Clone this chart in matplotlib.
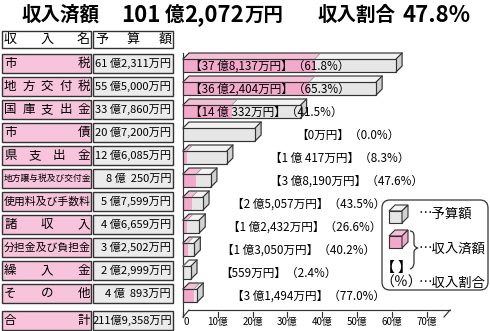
import matplotlib
matplotlib.use('Agg')
import matplotlib.pyplot as plt
from matplotlib.patches import Polygon, Rectangle, FancyBboxPatch, PathPatch
from matplotlib.path import Path

plt.rcParams['font.family'] = ['Noto Sans CJK JP', 'DejaVu Sans']

# ---------------- data ----------------
categories = ['市税', '地方交付税', '国庫支出金', '市債', '県支出金',
              '地方譲与税及び交付金', '使用料及び手数料', '諸収入',
              '分担金及び負担金', '繰入金', 'その他']
budget_man = [612311, 555000, 337860, 207200, 126085, 80250,
              57599, 46659, 32502, 22999, 40893]          # 予算額 (万円)
received_man = [378137, 362404, 140332, 0, 10417, 38190,
                25057, 12432, 13050, 559, 31494]         # 収入済額 (万円)
ratio_pct = [61.8, 65.3, 41.5, 0.0, 8.3, 47.6, 43.5, 26.6, 40.2, 2.4, 77.0]
total_budget_man = 2119358
total_received_man = 1012072
total_ratio_pct = 47.8
xticks = [0, 10, 20, 30, 40, 50, 60, 70]
xtick_labels = ['0', '10億', '20億', '30億', '40億', '50億', '60億', '70億']

# ---------------- layout / style ----------------
label_x = [2.0, 2.0, 2.0, 32.5, 25.0, 25.0, 14.0, 13.0, 11.2, 10.6, 14.0]
PINK = '#F3A9CA'
PINK_TOP = '#F6BFD8'
CELL_PINK = '#F7C4DB'
CELL_GREY = '#EBEBEB'
GREY = '#E6E6E6'
GREY_TOP = '#F3F3F3'
GREY_SIDE = '#D2D2D2'
EDGE = '#333333'

W, H = 490, 331
fig = plt.figure(figsize=(W / 100, H / 100), dpi=100)
fig.patch.set_facecolor('white')

# pixel-coordinate overlay for table, title and legend
axp = fig.add_axes([0, 0, 1, 1])
axp.set_xlim(0, W)
axp.set_ylim(H, 0)
axp.axis('off')

# bar axes
ROW0, ROWSTEP = 54.0, 23.0
px_x0, px_x1 = 183.0, 444.0
xmax = 75.0
front_c0 = ROW0 + 11.5
floor_px, top_px = 317.0, 47.0
ylo = (floor_px - front_c0) / ROWSTEP
yhi = (top_px - front_c0) / ROWSTEP
axb = fig.add_axes([px_x0 / W, (H - floor_px) / H, (px_x1 - px_x0) / W, (floor_px - top_px) / H])
axb.set_xlim(0, xmax)
axb.set_ylim(ylo, yhi)
axb.axis('off')
axb.patch.set_alpha(0)

ppx = (px_x1 - px_x0) / xmax  # pixels per 億
dx = 6.0 / ppx
dy = 6.0 / ROWSTEP
hh = 6.5 / ROWSTEP


def oku(v):
    return v / 10000.0


def fmt_man(v, space=True):
    o, m = divmod(v, 10000)
    if o == 0:
        return f'{m}万円'
    sep = ' ' if space else ''
    if m >= 1000:
        return f'{o}{sep}億{m:,}万円'
    return f'{o}{sep}億 {m}万円'


def poly(ax, pts, fc, z=3):
    ax.add_patch(Polygon(pts, closed=True, fc=fc, ec='none', zorder=z, clip_on=False))


def line(ax, xs, ys, lw=0.85, z=4, c=EDGE):
    ax.plot(xs, ys, color=c, lw=lw, zorder=z, clip_on=False, solid_joinstyle='miter')


def bar3d(ax, y, rec, bud, z=3):
    yt, yb = y - hh, y + hh
    yk = yt - dy
    if rec > 0:
        poly(ax, [(0, yt), (rec, yt), (rec, yb), (0, yb)], PINK, z)
        poly(ax, [(0, yt), (rec, yt), (rec + dx, yk), (dx, yk)], PINK_TOP, z)
    poly(ax, [(rec, yt), (bud, yt), (bud, yb), (rec, yb)], GREY, z)
    poly(ax, [(rec, yt), (bud, yt), (bud + dx, yk), (rec + dx, yk)], GREY_TOP, z)
    poly(ax, [(bud, yt), (bud + dx, yk), (bud + dx, yb - dy), (bud, yb)], GREY_SIDE, z)
    line(ax, [0, bud, bud, 0, 0], [yt, yt, yb, yb, yt], z=z + 0.5)
    line(ax, [0, dx, bud + dx, bud + dx, bud], [yt, yk, yk, yb - dy, yb], z=z + 0.5)
    line(ax, [bud, bud + dx], [yt, yk], z=z + 0.5)
    if rec > 0:
        line(ax, [rec, rec + dx], [yt, yk], lw=0.5, z=z + 0.5, c='#888888')


# wall and floor
yfront, yback = ylo, ylo - dy * 7 / 6
line(axb, [0, 0], [yhi + 0.25, ylo], z=2)
line(axb, [0, dx], [yfront, yback], z=2)
line(axb, [dx, xmax + dx], [yback, yback], z=2)
line(axb, [xmax, xmax + dx], [yfront, yback], z=2)
for t, lab in zip(xticks, xtick_labels):
    line(axb, [t, t], [yfront, yfront - 0.22], z=2)
    axb.text(t + (0.8 if t == 0 else 0), yfront + 0.22, lab, ha='center', va='center',
             fontsize=7.0, clip_on=False)

# bars and labels
for i in range(len(categories)):
    bar3d(axb, i, oku(received_man[i]), oku(budget_man[i]))
    txt = f'【{fmt_man(received_man[i])}】（{ratio_pct[i]:.1f}%）'
    axb.text(label_x[i], i + 0.02, txt, ha='left', va='center', fontsize=8.4, zorder=6,
             clip_on=False)

# ---------------- title (pieces chained left to right) ----------------
renderer = fig.canvas.get_renderer()
ty = 15
tok, tman = divmod(total_received_man, 10000)
CJK_FS, NUM_FS = 14, 16


def title_chain(x, pieces):
    for s, fs, gap in pieces:
        t = axp.text(x, ty, s, ha='left', va='center', fontsize=fs, fontweight='bold')
        bb = t.get_window_extent(renderer=renderer)
        x = bb.x1 + gap


title_chain(22, [('収入済額', CJK_FS, 0)])
title_chain(121, [(f'{tok}', NUM_FS, 4), ('億', CJK_FS, 0), (f'{tman:,}', NUM_FS, 1), ('万円', CJK_FS, 0)])
title_chain(318, [('収入割合', CJK_FS, 6), (f'{total_ratio_pct}%', NUM_FS, 0)])

# ---------------- table ----------------
NX0, NX1, BX0, BX1 = 2.0, 91.0, 93.0, 173.0


def cell(x0, y0, x1, y1, fc):
    axp.add_patch(Rectangle((x0 + 1.2, y0 + 1.2), x1 - x0, y1 - y0, fc='#9A9A9A', ec='none', zorder=1))
    axp.add_patch(Rectangle((x0, y0), x1 - x0, y1 - y0, fc=fc, ec=EDGE, lw=1.0, zorder=2))


def spread(text, x0, x1, yc, fs):
    n = len(text)
    cw = fs * 1.39
    if n == 1:
        axp.text((x0 + x1) / 2, yc, text, ha='center', va='center', fontsize=fs, zorder=3)
        return
    a, b = x0 + cw / 2, x1 - cw / 2
    for k, ch in enumerate(text):
        axp.text(a + (b - a) * k / (n - 1), yc, ch, ha='center', va='center', fontsize=fs, zorder=3)


# header
cell(NX0, 31, NX1, 47.5, 'white')
cell(BX0, 31, BX1, 47.5, 'white')
spread('収入名', NX0 + 2, NX1 - 1, 39.5, 9.4)
spread('予算額', BX0 + 2, BX1 - 1, 39.5, 9.4)

rows_top = [ROW0 + ROWSTEP * i for i in range(len(categories))]
for i, name in enumerate(categories):
    t = rows_top[i]
    cell(NX0, t, NX1, t + 18.5, CELL_PINK)
    cell(BX0, t, BX1, t + 18.5, CELL_GREY)
    yc = t + 9.5
    if len(name) <= 5:
        spread(name, NX0 + 2, NX1 - 1, yc, 9.0)
    elif len(name) <= 8:
        axp.text((NX0 + NX1) / 2 + 0.5, yc, name, ha='center', va='center', fontsize=7.8, zorder=3)
    else:
        axp.text((NX0 + NX1) / 2 + 0.5, yc, name, ha='center', va='center', fontsize=6.3, zorder=3)
    axp.text(BX1 - 2, yc, fmt_man(budget_man[i]).replace(' 億 ', ' 億  '), ha='right', va='center',
             fontsize=8.0, zorder=3)

tt = 311.0
cell(NX0, tt, NX1, tt + 18.5, CELL_PINK)
cell(BX0, tt, BX1, tt + 18.5, CELL_GREY)
spread('合計', NX0 + 2, NX1 - 1, tt + 9.5, 9.0)
axp.text(BX1 - 1, tt + 9.5, fmt_man(total_budget_man, space=False), ha='right', va='center',
         fontsize=8.0, zorder=3)

# ---------------- legend ----------------
axp.add_patch(FancyBboxPatch((382, 200), 106, 90, boxstyle='round,pad=0,rounding_size=8',
                             fc='white', ec=EDGE, lw=0.9, zorder=2))


def cube(x0, y0, w, h, d, front, top, side):
    axp.add_patch(Polygon([(x0, y0), (x0 + w, y0), (x0 + w, y0 + h), (x0, y0 + h)], fc=front, ec=EDGE, lw=0.8, zorder=3))
    axp.add_patch(Polygon([(x0, y0), (x0 + d, y0 - d), (x0 + w + d, y0 - d), (x0 + w, y0)], fc=top, ec=EDGE, lw=0.8, zorder=3))
    axp.add_patch(Polygon([(x0 + w, y0), (x0 + w + d, y0 - d), (x0 + w + d, y0 + h - d), (x0 + w, y0 + h)], fc=side, ec=EDGE, lw=0.8, zorder=3))


LFS = 9.6
cube(389, 211, 13, 12, 6, GREY, GREY_TOP, GREY_SIDE)
axp.text(419, 213.5, '…予算額', ha='left', va='center', fontsize=LFS, zorder=4)
cube(389, 236, 13, 12, 6, PINK, PINK_TOP, PINK)
axp.text(419, 249, '…収入済額', ha='left', va='center', fontsize=LFS, zorder=4)
axp.text(381, 268, '【 】', ha='left', va='center', fontsize=10, fontweight='bold', zorder=4)
bx = 410
brace = Path([(bx, 231), (bx + 4, 231), (bx + 4, 236), (bx + 4, 244), (bx + 4, 247), (bx + 8, 248),
              (bx + 4, 249), (bx + 4, 252), (bx + 4, 262), (bx + 4, 268), (bx, 269)],
             [Path.MOVETO, Path.CURVE3, Path.CURVE3, Path.LINETO, Path.CURVE3, Path.CURVE3,
              Path.CURVE3, Path.CURVE3, Path.LINETO, Path.CURVE3, Path.CURVE3])
axp.add_patch(PathPatch(brace, fc='none', ec=EDGE, lw=0.9, zorder=4))
axp.text(380, 283, '（％）', ha='left', va='center', fontsize=10, zorder=4)
axp.text(419, 283, '…収入割合', ha='left', va='center', fontsize=LFS, zorder=4)

fig.savefig('out.png', dpi=100, facecolor='white')
